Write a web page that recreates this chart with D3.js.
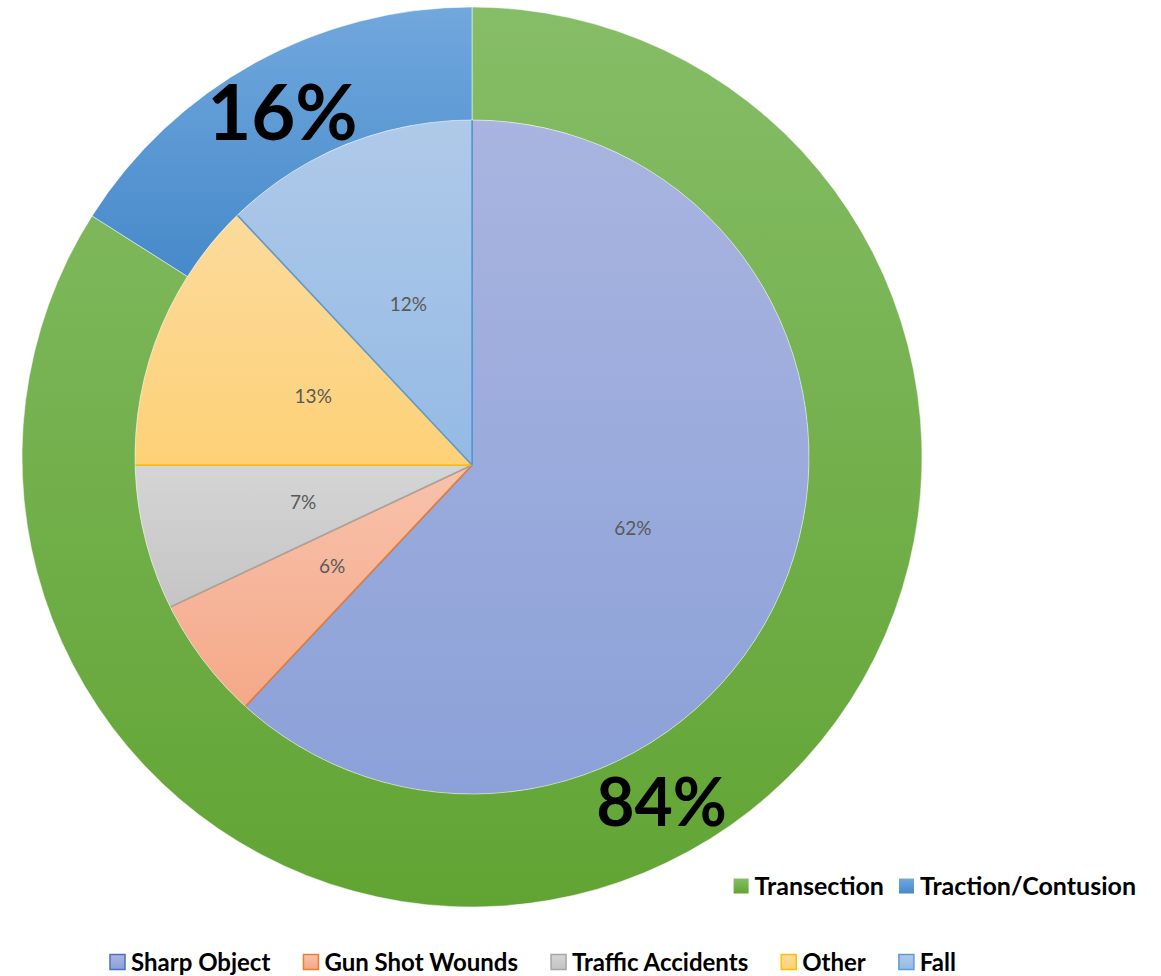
<!DOCTYPE html>
<html>
<head>
<meta charset="utf-8">
<script src="https://cdn.jsdelivr.net/npm/d3@7"></script>
<style>
  body { margin: 0; background: #fff; }
  text { font-family: Lato, "Open Sans", sans-serif; }
</style>
</head>
<body>
<div id="viz"></div>
<script>
const outerCategories = ["Transection", "Traction/Contusion"];
const outerValues = [84, 16];
const innerCategories = ["Sharp Object", "Gun Shot Wounds", "Traffic Accidents", "Other", "Fall"];
const innerValues = [62, 6, 7, 13, 12];

// gradient top / bottom and border colours
const outerColors = [["#86bd67", "#61a433"], ["#71a8dd", "#4689ca"]];
const innerColors = [["#aab5e0", "#8aa0d8"], ["#f8c2ac", "#f4a684"], ["#d5d5d5", "#c3c3c3"], ["#fcdb9f", "#fdd177"], ["#b1cae9", "#94bae5"]];
const innerStroke = ["#4472c4", "#ed7d31", "#a5a5a5", "#ffc000", "#5b9bd5"];

const width = 1161;
const height = 976;
const cx = 472, cy = 457;       // ring / pie circle centre
const apexY = 465;              // pie wedges meet slightly lower
const rOuter = 450, rInner = 337;

const svg = d3.select("#viz").append("svg")
    .attr("width", width)
    .attr("height", height);

const defs = svg.append("defs");
function addGrad(id, c) {
  const g = defs.append("linearGradient").attr("id", id)
      .attr("x1", 0).attr("y1", 0).attr("x2", 0).attr("y2", 1);
  g.append("stop").attr("offset", "0%").attr("stop-color", c[0]);
  g.append("stop").attr("offset", "100%").attr("stop-color", c[1]);
}
outerColors.forEach((c, i) => addGrad("og" + i, c));
innerColors.forEach((c, i) => addGrad("ig" + i, c));

defs.append("clipPath").attr("id", "pieClip")
  .append("circle").attr("cx", cx).attr("cy", cy).attr("r", rInner);

const pie = d3.pie().sort(null).value(d => d);

// inner pie
const innerArcs = pie(innerValues);
const innerArc = d3.arc().innerRadius(0).outerRadius(rInner + 30);
const labelArc = d3.arc().innerRadius(173).outerRadius(173);
const innerTotal = d3.sum(innerValues);

const inner = svg.append("g").attr("clip-path", "url(#pieClip)")
  .append("g").attr("transform", `translate(${cx},${apexY})`);

inner.selectAll("path")
  .data(innerArcs)
  .enter()
  .append("path")
  .attr("d", innerArc)
  .attr("fill", (d, i) => `url(#ig${i})`)
  .attr("stroke", (d, i) => innerStroke[i])
  .attr("stroke-width", 1.6)
  .attr("stroke-linejoin", "round");

const innerLabels = svg.append("g").attr("transform", `translate(${cx},${apexY})`);
innerLabels.selectAll("text")
  .data(innerArcs)
  .enter()
  .append("text")
  .attr("transform", d => `translate(${labelArc.centroid(d)})`)
  .attr("text-anchor", "middle")
  .attr("dy", "0.35em")
  .attr("fill", "#595959")
  .style("font-size", "19px")
  .text(d => Math.round(d.data / innerTotal * 100) + "%");

// outer ring
const outerArcs = pie(outerValues);
const outerArc = d3.arc().innerRadius(rInner).outerRadius(rOuter);
const outerTotal = d3.sum(outerValues);
const ring = svg.append("g").attr("transform", `translate(${cx},${cy})`);

ring.selectAll("path")
  .data(outerArcs)
  .enter()
  .append("path")
  .attr("d", outerArc)
  .attr("fill", (d, i) => `url(#og${i})`)
  .attr("stroke", "#ffffff")
  .attr("stroke-opacity", 0.5)
  .attr("stroke-width", 1);

const bigSize = [66, 76];
ring.selectAll("text")
  .data(outerArcs)
  .enter()
  .append("text")
  .attr("transform", d => `translate(${outerArc.centroid(d)})`)
  .attr("text-anchor", "middle")
  .attr("dy", "0.36em")
  .attr("fill", "#000")
  .style("font-weight", "bold")
  .style("font-size", (d, i) => bigSize[i] + "px")
  .text(d => Math.round(d.data / outerTotal * 100) + "%");

// legends
function legend(cats, fills, strokes, y, startX, rightAlign, gap, fontSize) {
  const g = svg.append("g");
  const items = g.selectAll("g")
    .data(cats)
    .enter()
    .append("g");
  items.append("rect")
    .attr("width", 15).attr("height", 15)
    .attr("y", y - 7.5)
    .attr("fill", (d, i) => fills[i])
    .attr("stroke", (d, i) => strokes ? strokes[i] : "none")
    .attr("stroke-width", 1.5);
  items.append("text")
    .attr("x", 21)
    .attr("y", y)
    .attr("dy", "0.36em")
    .style("font-size", fontSize + "px")
    .style("font-weight", "bold")
    .attr("fill", "#000")
    .text(d => d);
  const widths = [];
  items.each(function () { widths.push(this.getBBox().width); });
  const total = d3.sum(widths) + gap * (cats.length - 1);
  let x = rightAlign ? startX - total : startX;
  items.attr("transform", (d, i) => {
    const t = `translate(${x},0)`;
    x += widths[i] + gap;
    return t;
  });
}

legend(outerCategories, outerColors.map((c, i) => `url(#og${i})`), null, 886, 1136, true, 15, 25);
legend(innerCategories, innerColors.map((c, i) => `url(#ig${i})`), innerStroke, 962, 110, false, 33, 24);
</script>
</body>
</html>
